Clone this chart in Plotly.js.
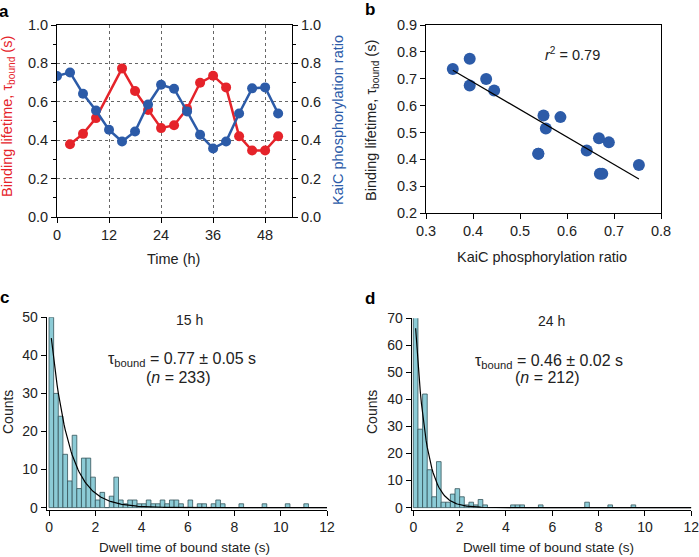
<!DOCTYPE html>
<html>
<head>
<meta charset="utf-8">
<script src="https://cdn.plot.ly/plotly-3.0.1.min.js"></script>
<style>
  html, body { margin: 0; padding: 0; background: #fff; }
  #fig { width: 699px; height: 557px; }
</style>
</head>
<body>
<div id="fig"></div>
<script>
// panel a: time course (h)
var lifetimeTime = [3, 6, 9, 15, 18, 21, 24, 27, 30, 33, 36, 39, 42, 45, 48, 51];
var lifetime = [0.379, 0.433, 0.515, 0.774, 0.656, 0.557, 0.463, 0.478, 0.563, 0.699, 0.736, 0.675, 0.421, 0.346, 0.346, 0.421];
var phosTime = [0, 3, 6, 9, 12, 15, 18, 21, 24, 27, 30, 33, 36, 39, 42, 45, 48, 51];
var phosRatio = [0.734, 0.753, 0.642, 0.555, 0.454, 0.393, 0.445, 0.586, 0.689, 0.668, 0.55, 0.428, 0.357, 0.393, 0.539, 0.67, 0.675, 0.539];

// panels c, d: dwell time histograms, 0.2 s bins from 0 to 12 s
var binWidth = 0.2;
var counts15h = [50, 30, 24, 14, 7, 19, 5, 13, 13, 8, 2, 4, 0, 3, 8, 2, 1, 2, 2, 1,
                 1, 2, 1, 1, 2, 1, 2, 2, 1, 0, 2, 0, 1, 1, 0, 1, 2, 1, 0, 0,
                 0, 1, 0, 0, 0, 0, 1, 0, 0, 0, 0, 1, 0, 0, 0, 1, 0, 0, 0, 0];
var counts24h = [71, 29, 42, 14, 4, 17, 2, 2, 5, 7, 4, 1, 2, 1, 3, 1, 0, 0, 0, 0,
                 0, 1, 1, 1, 0, 0, 0, 1, 0, 0, 0, 0, 0, 0, 0, 0, 0, 2, 0, 0,
                 0, 0, 1, 0, 0, 0, 0, 1, 0, 0, 0, 0, 0, 0, 0, 0, 0, 0, 0, 0];
// single exponential fits
var tau15h = 0.77, amp15h = 50.7;
var tau24h = 0.46, amp24h = 82.4;

var red = '#e5232a';
var blue = '#2c5ba8';
var barFill = '#8ccbd6';
var barEdge = '#35545a';
var font = 'Liberation Sans, Arial, sans-serif';

// panel b pairs: same time points
var bx = [], by = [];
lifetimeTime.forEach(function (t, i) {
  var j = phosTime.indexOf(t);
  bx.push(phosRatio[j]);
  by.push(lifetime[i]);
});
// least squares line
var n = bx.length, mx = 0, my = 0;
for (var i = 0; i < n; i++) { mx += bx[i] / n; my += by[i] / n; }
var sxy = 0, sxx = 0;
for (var i = 0; i < n; i++) { sxy += (bx[i] - mx) * (by[i] - my); sxx += (bx[i] - mx) * (bx[i] - mx); }
var slope = sxy / sxx, icpt = my - slope * mx;
var xmin = Math.min.apply(null, bx), xmax = Math.max.apply(null, bx);

function centers(c) { return c.map(function (v, k) { return k * binWidth + binWidth / 2; }); }
function expCurve(amp, tau) {
  var xs = [], ys = [];
  for (var x = binWidth / 2; x <= 12.0001; x += 0.05) { xs.push(x); ys.push(amp * Math.exp(-x / tau)); }
  return { x: xs, y: ys };
}
var fit15 = expCurve(amp15h, tau15h);
var fit24 = expCurve(amp24h, tau24h);

var data = [
  { x: lifetimeTime, y: lifetime, type: 'scatter', mode: 'lines+markers',
    line: { color: red, width: 2.5 }, marker: { color: red, size: 10 },
    xaxis: 'x', yaxis: 'y' },
  { x: phosTime, y: phosRatio, type: 'scatter', mode: 'lines+markers',
    line: { color: blue, width: 2.5 }, marker: { color: blue, size: 10 },
    xaxis: 'x', yaxis: 'y2' },
  { x: bx, y: by, type: 'scatter', mode: 'markers',
    marker: { color: blue, size: 12 }, xaxis: 'x2', yaxis: 'y3' },
  { x: [xmin, xmax], y: [icpt + slope * xmin, icpt + slope * xmax], type: 'scatter', mode: 'lines',
    line: { color: '#000', width: 1.2 }, xaxis: 'x2', yaxis: 'y3' },
  { x: centers(counts15h), y: counts15h, type: 'bar', width: binWidth,
    marker: { color: barFill, line: { color: barEdge, width: 0.8 } }, xaxis: 'x3', yaxis: 'y4' },
  { x: fit15.x, y: fit15.y, type: 'scatter', mode: 'lines',
    line: { color: '#000', width: 1.2 }, xaxis: 'x3', yaxis: 'y4' },
  { x: centers(counts24h), y: counts24h, type: 'bar', width: binWidth,
    marker: { color: barFill, line: { color: barEdge, width: 0.8 } }, xaxis: 'x4', yaxis: 'y5' },
  { x: fit24.x, y: fit24.y, type: 'scatter', mode: 'lines',
    line: { color: '#000', width: 1.2 }, xaxis: 'x4', yaxis: 'y5' }
];

function W(px) { return px / 699; }
function H(py) { return 1 - py / 557; }

var axBase = {
  showline: true, linecolor: '#000', linewidth: 1, ticks: 'outside', ticklen: 5,
  tickcolor: '#000', tickfont: { size: 13, color: '#222' }, zeroline: false, showgrid: false,
  fixedrange: true, ticklabeloverflow: 'allow'
};
function ax(o) { return Object.assign({}, axBase, o); }
var bigTick = { size: 14.5, color: '#222' };
var histTick = { size: 14, color: '#222' };

var layout = {
  width: 699, height: 557,
  margin: { l: 0, r: 0, t: 0, b: 0 },
  paper_bgcolor: '#fff', plot_bgcolor: 'rgba(0,0,0,0)',
  font: { family: font, size: 13, color: '#222' },
  showlegend: false, bargap: 0,
  // a
  xaxis: ax({ domain: [W(57), W(292)], range: [0, 54.2], anchor: 'y', mirror: true, tickfont: bigTick,
    tickvals: [0, 12, 24, 36, 48], showgrid: true, gridcolor: '#666', griddash: 'dot', gridwidth: 1 }),
  yaxis: ax({ domain: [H(217), H(25)], range: [0, 1], anchor: 'x', dtick: 0.2, tickformat: '.1f', tickfont: bigTick,
    showgrid: true, gridcolor: '#666', griddash: 'dot', gridwidth: 1,
    minor: { ticks: 'outside', ticklen: 3, dtick: 0.1, tickcolor: '#000' } }),
  yaxis2: ax({ overlaying: 'y', side: 'right', anchor: 'x', range: [0, 1], dtick: 0.2, tickformat: '.1f', tickfont: bigTick,
    minor: { ticks: 'outside', ticklen: 3, dtick: 0.1, tickcolor: '#000' } }),
  // b
  xaxis2: ax({ domain: [W(426), W(661)], range: [0.3, 0.8], anchor: 'y3', mirror: true, dtick: 0.1, tickformat: '.1f', tickfont: bigTick }),
  yaxis3: ax({ domain: [H(213), H(25)], range: [0.2, 0.9], anchor: 'x2', mirror: true, dtick: 0.1, tickformat: '.1f', tickfont: bigTick }),
  // c
  xaxis3: ax({ domain: [W(46.7), W(327)], range: [-0.1, 12], anchor: 'y4', tickvals: [0, 2, 4, 6, 8, 10, 12], tickfont: histTick }),
  yaxis4: ax({ domain: [H(509.5), H(317.3)], range: [-0.5, 50], anchor: 'x3', tickvals: [0, 10, 20, 30, 40, 50], tickfont: histTick }),
  // d
  xaxis4: ax({ domain: [W(411.7), W(691.3)], range: [-0.07, 12], anchor: 'y5', tickvals: [0, 2, 4, 6, 8, 10, 12], tickfont: histTick }),
  yaxis5: ax({ domain: [H(509.5), H(318.3)], range: [-0.7, 70], anchor: 'x4', tickvals: [0, 10, 20, 30, 40, 50, 60, 70], tickfont: histTick }),
  annotations: []
};

function note(text, px, py, o) {
  layout.annotations.push(Object.assign({
    text: text, xref: 'paper', yref: 'paper', x: W(px), y: H(py),
    xanchor: 'center', yanchor: 'middle', showarrow: false,
    font: { size: 13, color: '#222', family: font }
  }, o || {}));
}
function f(size, color) { return { size: size, color: color || '#222', family: font }; }

// panel letters
var bold = { size: 17, color: '#000', family: font, weight: 'bold' };
note('<b>a</b>', 4, 11, { font: bold });
note('<b>b</b>', 370, 10, { font: bold });
note('<b>c</b>', 4, 297, { font: bold });
note('<b>d</b>', 370, 298, { font: bold });

// axis titles
note('Binding lifetime, τ<sub>bound</sub> (s)', 8, 117, { textangle: -90, font: f(14.5, red) });
note('KaiC phosphorylation ratio', 338, 120, { textangle: -90, font: f(14.5, blue) });
note('Time (h)', 173, 259, { font: f(14.5) });
note('Binding lifetime, τ<sub>bound</sub> (s)', 372, 121, { textangle: -90, font: f(14.5) });
note('KaiC phosphorylation ratio', 542, 257, { font: f(14.5) });
note('Counts', 8, 412, { textangle: -90, font: f(14) });
note('Dwell time of bound state (s)', 184, 547, { font: f(13.5) });
note('Counts', 372, 412, { textangle: -90, font: f(14) });
note('Dwell time of bound state (s)', 548, 547, { font: f(13.5) });

// in-plot texts
note('<i>r</i><sup>2</sup> = 0.79', 572, 54, { font: f(14.5) });
note('15 h', 190, 320, { font: f(14) });
note('τ<sub>bound</sub> = 0.77 ± 0.05 s', 182, 359, { font: f(16) });
note('(<i>n</i> = 233)', 179, 377, { font: f(16) });
note('24 h', 551, 321, { font: f(14) });
note('τ<sub>bound</sub> = 0.46 ± 0.02 s', 549, 361, { font: f(16) });
note('(<i>n</i> = 212)', 547, 377, { font: f(16) });

Plotly.newPlot('fig', data, layout, { displayModeBar: false, staticPlot: true });
</script>
</body>
</html>
